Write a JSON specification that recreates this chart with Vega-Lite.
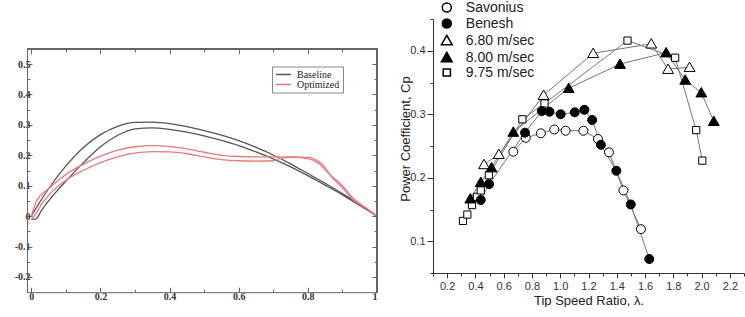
{
  "$schema": "https://vega.github.io/schema/vega-lite/v6.json",
  "background": "white",
  "padding": {"left": 14, "top": 0, "right": 0, "bottom": 0},
  "spacing": 19,
  "config": {"view": {"stroke": null}, "axis": {"grid": false}},
  "resolve": {"legend": {"color": "independent", "shape": "independent", "fill": "independent"}},
  "datasets": {
    "airfoil": [
      {"model": "Baseline", "surface": "BU", "x": 0, "y": 0},
      {"model": "Baseline", "surface": "BU", "x": 0.02, "y": 0.038},
      {"model": "Baseline", "surface": "BU", "x": 0.05, "y": 0.09},
      {"model": "Baseline", "surface": "BU", "x": 0.1, "y": 0.165},
      {"model": "Baseline", "surface": "BU", "x": 0.15, "y": 0.225},
      {"model": "Baseline", "surface": "BU", "x": 0.2, "y": 0.268},
      {"model": "Baseline", "surface": "BU", "x": 0.25, "y": 0.295},
      {"model": "Baseline", "surface": "BU", "x": 0.3, "y": 0.308},
      {"model": "Baseline", "surface": "BU", "x": 0.35, "y": 0.309},
      {"model": "Baseline", "surface": "BU", "x": 0.4, "y": 0.304},
      {"model": "Baseline", "surface": "BU", "x": 0.45, "y": 0.294},
      {"model": "Baseline", "surface": "BU", "x": 0.5, "y": 0.281},
      {"model": "Baseline", "surface": "BU", "x": 0.55, "y": 0.266},
      {"model": "Baseline", "surface": "BU", "x": 0.6, "y": 0.248},
      {"model": "Baseline", "surface": "BU", "x": 0.65, "y": 0.226},
      {"model": "Baseline", "surface": "BU", "x": 0.7, "y": 0.201},
      {"model": "Baseline", "surface": "BU", "x": 0.75, "y": 0.172},
      {"model": "Baseline", "surface": "BU", "x": 0.8, "y": 0.14},
      {"model": "Baseline", "surface": "BU", "x": 0.85, "y": 0.108},
      {"model": "Baseline", "surface": "BU", "x": 0.9, "y": 0.074},
      {"model": "Baseline", "surface": "BU", "x": 0.95, "y": 0.038},
      {"model": "Baseline", "surface": "BU", "x": 1, "y": 0},
      {"model": "Baseline", "surface": "BL", "x": 0, "y": -0.01},
      {"model": "Baseline", "surface": "BL", "x": 0.012, "y": -0.01},
      {"model": "Baseline", "surface": "BL", "x": 0.03, "y": 0.02},
      {"model": "Baseline", "surface": "BL", "x": 0.05, "y": 0.05},
      {"model": "Baseline", "surface": "BL", "x": 0.1, "y": 0.115},
      {"model": "Baseline", "surface": "BL", "x": 0.15, "y": 0.175},
      {"model": "Baseline", "surface": "BL", "x": 0.2, "y": 0.228},
      {"model": "Baseline", "surface": "BL", "x": 0.25, "y": 0.266},
      {"model": "Baseline", "surface": "BL", "x": 0.3, "y": 0.287},
      {"model": "Baseline", "surface": "BL", "x": 0.35, "y": 0.29},
      {"model": "Baseline", "surface": "BL", "x": 0.4, "y": 0.285},
      {"model": "Baseline", "surface": "BL", "x": 0.45, "y": 0.276},
      {"model": "Baseline", "surface": "BL", "x": 0.5, "y": 0.264},
      {"model": "Baseline", "surface": "BL", "x": 0.55, "y": 0.249},
      {"model": "Baseline", "surface": "BL", "x": 0.6, "y": 0.232},
      {"model": "Baseline", "surface": "BL", "x": 0.65, "y": 0.211},
      {"model": "Baseline", "surface": "BL", "x": 0.7, "y": 0.188},
      {"model": "Baseline", "surface": "BL", "x": 0.75, "y": 0.162},
      {"model": "Baseline", "surface": "BL", "x": 0.8, "y": 0.133},
      {"model": "Baseline", "surface": "BL", "x": 0.85, "y": 0.102},
      {"model": "Baseline", "surface": "BL", "x": 0.9, "y": 0.07},
      {"model": "Baseline", "surface": "BL", "x": 0.95, "y": 0.035},
      {"model": "Baseline", "surface": "BL", "x": 1, "y": 0},
      {"model": "Optimized", "surface": "OU", "x": 0, "y": 0},
      {"model": "Optimized", "surface": "OU", "x": 0.015, "y": 0.05},
      {"model": "Optimized", "surface": "OU", "x": 0.05, "y": 0.09},
      {"model": "Optimized", "surface": "OU", "x": 0.1, "y": 0.137},
      {"model": "Optimized", "surface": "OU", "x": 0.15, "y": 0.17},
      {"model": "Optimized", "surface": "OU", "x": 0.2, "y": 0.197},
      {"model": "Optimized", "surface": "OU", "x": 0.25, "y": 0.217},
      {"model": "Optimized", "surface": "OU", "x": 0.3, "y": 0.228},
      {"model": "Optimized", "surface": "OU", "x": 0.35, "y": 0.232},
      {"model": "Optimized", "surface": "OU", "x": 0.4, "y": 0.229},
      {"model": "Optimized", "surface": "OU", "x": 0.45, "y": 0.221},
      {"model": "Optimized", "surface": "OU", "x": 0.5, "y": 0.21},
      {"model": "Optimized", "surface": "OU", "x": 0.55, "y": 0.2},
      {"model": "Optimized", "surface": "OU", "x": 0.6, "y": 0.196},
      {"model": "Optimized", "surface": "OU", "x": 0.65, "y": 0.195},
      {"model": "Optimized", "surface": "OU", "x": 0.7, "y": 0.195},
      {"model": "Optimized", "surface": "OU", "x": 0.75, "y": 0.195},
      {"model": "Optimized", "surface": "OU", "x": 0.8, "y": 0.193},
      {"model": "Optimized", "surface": "OU", "x": 0.84, "y": 0.172},
      {"model": "Optimized", "surface": "OU", "x": 0.87, "y": 0.127},
      {"model": "Optimized", "surface": "OU", "x": 0.9, "y": 0.093},
      {"model": "Optimized", "surface": "OU", "x": 0.93, "y": 0.055},
      {"model": "Optimized", "surface": "OU", "x": 0.965, "y": 0.028},
      {"model": "Optimized", "surface": "OU", "x": 1, "y": 0},
      {"model": "Optimized", "surface": "OL", "x": 0, "y": -0.01},
      {"model": "Optimized", "surface": "OL", "x": 0.012, "y": 0.005},
      {"model": "Optimized", "surface": "OL", "x": 0.03, "y": 0.04},
      {"model": "Optimized", "surface": "OL", "x": 0.05, "y": 0.068},
      {"model": "Optimized", "surface": "OL", "x": 0.1, "y": 0.118},
      {"model": "Optimized", "surface": "OL", "x": 0.15, "y": 0.15},
      {"model": "Optimized", "surface": "OL", "x": 0.2, "y": 0.176},
      {"model": "Optimized", "surface": "OL", "x": 0.25, "y": 0.195},
      {"model": "Optimized", "surface": "OL", "x": 0.3, "y": 0.207},
      {"model": "Optimized", "surface": "OL", "x": 0.35, "y": 0.212},
      {"model": "Optimized", "surface": "OL", "x": 0.4, "y": 0.211},
      {"model": "Optimized", "surface": "OL", "x": 0.45, "y": 0.205},
      {"model": "Optimized", "surface": "OL", "x": 0.5, "y": 0.195},
      {"model": "Optimized", "surface": "OL", "x": 0.55, "y": 0.186},
      {"model": "Optimized", "surface": "OL", "x": 0.6, "y": 0.182},
      {"model": "Optimized", "surface": "OL", "x": 0.65, "y": 0.181},
      {"model": "Optimized", "surface": "OL", "x": 0.7, "y": 0.182},
      {"model": "Optimized", "surface": "OL", "x": 0.72, "y": 0.19},
      {"model": "Optimized", "surface": "OL", "x": 0.76, "y": 0.193},
      {"model": "Optimized", "surface": "OL", "x": 0.8, "y": 0.189},
      {"model": "Optimized", "surface": "OL", "x": 0.83, "y": 0.175},
      {"model": "Optimized", "surface": "OL", "x": 0.86, "y": 0.14},
      {"model": "Optimized", "surface": "OL", "x": 0.9, "y": 0.1},
      {"model": "Optimized", "surface": "OL", "x": 0.93, "y": 0.06},
      {"model": "Optimized", "surface": "OL", "x": 0.965, "y": 0.03},
      {"model": "Optimized", "surface": "OL", "x": 1, "y": 0}
    ],
    "cp": [
      {"s": "9.75 m/sec", "x": 0.312, "y": 0.132},
      {"s": "9.75 m/sec", "x": 0.343, "y": 0.142},
      {"s": "9.75 m/sec", "x": 0.376, "y": 0.157},
      {"s": "9.75 m/sec", "x": 0.411, "y": 0.17},
      {"s": "9.75 m/sec", "x": 0.438, "y": 0.18},
      {"s": "9.75 m/sec", "x": 0.495, "y": 0.204},
      {"s": "9.75 m/sec", "x": 0.732, "y": 0.292},
      {"s": "9.75 m/sec", "x": 0.889, "y": 0.317},
      {"s": "9.75 m/sec", "x": 1.476, "y": 0.416},
      {"s": "9.75 m/sec", "x": 1.813, "y": 0.389},
      {"s": "9.75 m/sec", "x": 1.962, "y": 0.275},
      {"s": "9.75 m/sec", "x": 2.005, "y": 0.227},
      {"s": "6.80 m/sec", "x": 0.461, "y": 0.221},
      {"s": "6.80 m/sec", "x": 0.566, "y": 0.237},
      {"s": "6.80 m/sec", "x": 0.882, "y": 0.33},
      {"s": "6.80 m/sec", "x": 1.233, "y": 0.396},
      {"s": "6.80 m/sec", "x": 1.644, "y": 0.411},
      {"s": "6.80 m/sec", "x": 1.763, "y": 0.371},
      {"s": "6.80 m/sec", "x": 1.915, "y": 0.374},
      {"s": "8.00 m/sec", "x": 0.364, "y": 0.167},
      {"s": "8.00 m/sec", "x": 0.438, "y": 0.193},
      {"s": "8.00 m/sec", "x": 0.514, "y": 0.216},
      {"s": "8.00 m/sec", "x": 0.668, "y": 0.272},
      {"s": "8.00 m/sec", "x": 1.06, "y": 0.341},
      {"s": "8.00 m/sec", "x": 1.423, "y": 0.379},
      {"s": "8.00 m/sec", "x": 1.749, "y": 0.397},
      {"s": "8.00 m/sec", "x": 1.884, "y": 0.354},
      {"s": "8.00 m/sec", "x": 1.998, "y": 0.334},
      {"s": "8.00 m/sec", "x": 2.086, "y": 0.289},
      {"s": "Savonius", "x": 0.668, "y": 0.241},
      {"s": "Savonius", "x": 0.756, "y": 0.263},
      {"s": "Savonius", "x": 0.863, "y": 0.27},
      {"s": "Savonius", "x": 0.958, "y": 0.276},
      {"s": "Savonius", "x": 1.038, "y": 0.274},
      {"s": "Savonius", "x": 1.164, "y": 0.274},
      {"s": "Savonius", "x": 1.267, "y": 0.261},
      {"s": "Savonius", "x": 1.345, "y": 0.24},
      {"s": "Savonius", "x": 1.447, "y": 0.18},
      {"s": "Savonius", "x": 1.571, "y": 0.119},
      {"s": "Benesh", "x": 0.438, "y": 0.165},
      {"s": "Benesh", "x": 0.497, "y": 0.19},
      {"s": "Benesh", "x": 0.751, "y": 0.271},
      {"s": "Benesh", "x": 0.87, "y": 0.305},
      {"s": "Benesh", "x": 0.924, "y": 0.304},
      {"s": "Benesh", "x": 1.003, "y": 0.3},
      {"s": "Benesh", "x": 1.103, "y": 0.303},
      {"s": "Benesh", "x": 1.171, "y": 0.307},
      {"s": "Benesh", "x": 1.226, "y": 0.291},
      {"s": "Benesh", "x": 1.288, "y": 0.252},
      {"s": "Benesh", "x": 1.397, "y": 0.211},
      {"s": "Benesh", "x": 1.499, "y": 0.158},
      {"s": "Benesh", "x": 1.63, "y": 0.072}
    ]
  },
  "hconcat": [
    {
      "width": 350,
      "height": 273.2,
      "data": {"name": "airfoil"},
      "layer": [
        {
          "mark": {"type": "line", "strokeWidth": 1.3, "interpolate": "monotone"},
          "encoding": {
            "x": {"field": "x", "type": "quantitative",
              "scale": {"domain": [-0.0125, 1], "nice": false, "zero": false},
              "axis": {"orient": "bottom", "values": [0, 0.1, 0.2, 0.3, 0.4, 0.5, 0.6, 0.7, 0.8, 0.9, 1],
                "tickSize": {"condition": {"test": "abs(datum.value*5-round(datum.value*5))<0.001", "value": -5}, "value": -3},
                "labelExpr": "abs(datum.value*5-round(datum.value*5))<0.001 ? format(datum.value,'.1~f') : ''",
                "labelFont": "Liberation Serif", "labelFontWeight": "bold", "labelFontSize": 10, "labelColor": "#333",
                "labelPadding": 4, "domainColor": "#666", "tickColor": "#666", "title": null}},
            "y": {"field": "y", "type": "quantitative",
              "scale": {"domain": [-0.25, 0.55], "nice": false, "zero": false, "range": [273.2, 29.8]},
              "axis": {"orient": "left", "values": [-0.2, -0.15, -0.1, -0.05, 0, 0.05, 0.1, 0.15, 0.2, 0.25, 0.3, 0.35, 0.4, 0.45, 0.5],
                "tickSize": {"condition": {"test": "abs(datum.value*10-round(datum.value*10))<0.001", "value": -5}, "value": -3},
                "labelExpr": "abs(datum.value*10-round(datum.value*10))<0.001 ? (datum.value < -0.001 ? '-' + format(-datum.value,'.1~f') : format(datum.value,'.1~f')) : ''",
                "labelFont": "Liberation Serif", "labelFontWeight": "bold", "labelFontSize": 10, "labelColor": "#333",
                "labelPadding": 2, "domainColor": "#666", "tickColor": "#666", "title": null}},
            "color": {"field": "model", "type": "nominal",
              "scale": {"domain": ["Baseline", "Optimized"], "range": ["#555555", "#e87a7e"]},
              "legend": {"orient": "none", "legendX": 245, "legendY": 47.5, "title": null,
                "symbolType": "stroke", "symbolSize": 225, "symbolStrokeWidth": 1.3,
                "labelFont": "Liberation Serif", "labelFontSize": 10, "labelColor": "#222",
                "labelOffset": 5, "rowPadding": 0, "padding": 3, "clipHeight": 10,
                "strokeColor": "#888", "fillColor": "white"}},
            "detail": {"field": "surface"}
          }
        },
        {
          "mark": {"type": "rule", "color": "#666", "strokeWidth": 1},
          "encoding": {
            "x": {"datum": -0.0125, "type": "quantitative",
              "axis": {"orient": "top", "offset": -29.8, "values": [0, 0.1, 0.2, 0.3, 0.4, 0.5, 0.6, 0.7, 0.8, 0.9, 1],
                "tickSize": {"condition": {"test": "abs(datum.value*5-round(datum.value*5))<0.001", "value": -5}, "value": -3},
                "labels": false, "domainColor": "#666", "tickColor": "#666", "title": null}},
            "x2": {"datum": 1},
            "y": {"datum": 0.55, "type": "quantitative",
              "axis": {"orient": "right", "values": [-0.2, -0.15, -0.1, -0.05, 0, 0.05, 0.1, 0.15, 0.2, 0.25, 0.3, 0.35, 0.4, 0.45, 0.5],
                "tickSize": {"condition": {"test": "abs(datum.value*10-round(datum.value*10))<0.001", "value": -5}, "value": -3},
                "labels": false, "domainColor": "#666", "tickColor": "#666", "title": null}}
          }
        },
        {
          "mark": {"type": "rule", "color": "#666", "strokeWidth": 1},
          "encoding": {
            "x": {"datum": 1, "type": "quantitative", "axis": null},
            "y": {"datum": -0.25, "type": "quantitative", "axis": null},
            "y2": {"datum": 0.55}
          }
        }
      ],
      "resolve": {"axis": {"x": "independent", "y": "independent"}}
    },
    {
      "width": 311,
      "height": 254,
      "data": {"name": "cp"},
      "encoding": {
        "x": {"field": "x", "type": "quantitative",
          "scale": {"domain": [0.1, 2.3], "nice": false, "zero": false},
          "axis": {"values": [0.1, 0.2, 0.3, 0.4, 0.5, 0.6, 0.7, 0.8, 0.9, 1, 1.1, 1.2, 1.3, 1.4, 1.5, 1.6, 1.7, 1.8, 1.9, 2, 2.1, 2.2, 2.3],
            "tickSize": {"condition": {"test": "round(datum.value*10)%2==0", "value": 5}, "value": 3},
            "labelExpr": "round(datum.value*10)%2==0 ? format(datum.value,'.1f') : ''",
            "labelFont": "Liberation Sans", "labelFontSize": 11, "labelColor": "#333", "labelPadding": 2,
            "domainColor": "#333", "tickColor": "#333",
            "title": "Tip Speed Ratio, λ.", "titleFont": "Liberation Sans", "titleFontSize": 13,
            "titleFontWeight": "normal", "titleColor": "#222", "titlePadding": 3}},
        "y": {"field": "y", "type": "quantitative",
          "scale": {"domain": [0.05, 0.45], "nice": false, "zero": false},
          "axis": {"values": [0.05, 0.1, 0.15, 0.2, 0.25, 0.3, 0.35, 0.4, 0.45],
            "tickSize": {"condition": {"test": "abs(datum.value*10-round(datum.value*10))<0.001", "value": 6}, "value": 3},
            "labelExpr": "abs(datum.value*10-round(datum.value*10))<0.001 ? format(datum.value,'.1f') : ''",
            "labelFont": "Liberation Sans", "labelFontSize": 11, "labelColor": "#333", "labelPadding": 2,
            "domainColor": "#333", "tickColor": "#333",
            "title": "Power Coefficient, Cp", "titleFont": "Liberation Sans", "titleFontSize": 13,
            "titleFontWeight": "normal", "titleColor": "#222", "titlePadding": -3, "titleY": 119.5}}
      },
      "layer": [
        {
          "mark": {"type": "line", "color": "#777", "strokeWidth": 1},
          "encoding": {"detail": {"field": "s"}}
        },
        {
          "mark": {"type": "point", "opacity": 1, "stroke": "black", "strokeWidth": 1, "size": 81},
          "encoding": {
            "shape": {"field": "s", "type": "nominal",
              "scale": {"domain": ["Savonius", "Benesh", "6.80 m/sec", "8.00 m/sec", "9.75 m/sec"],
                "range": ["M-1,0A1,1,0,1,1,1,0A1,1,0,1,1,-1,0Z", "M-1,0A1,1,0,1,1,1,0A1,1,0,1,1,-1,0Z", "M0,-1.15L1.2,0.95L-1.2,0.95Z", "M0,-1.15L1.2,0.95L-1.2,0.95Z", "M-0.8,-0.8L0.8,-0.8L0.8,0.8L-0.8,0.8Z"]},
              "legend": {"orient": "none", "legendX": 6.8, "legendY": -18.5, "title": null,
                "labelFont": "Liberation Sans", "labelFontSize": 14, "labelColor": "#222",
                "labelOffset": 12, "symbolSize": 81, "rowPadding": 0, "padding": 0}},
            "fill": {"field": "s", "type": "nominal",
              "scale": {"domain": ["Savonius", "Benesh", "6.80 m/sec", "8.00 m/sec", "9.75 m/sec"],
                "range": ["white", "black", "white", "black", "white"]}}
          }
        }
      ]
    }
  ]
}
